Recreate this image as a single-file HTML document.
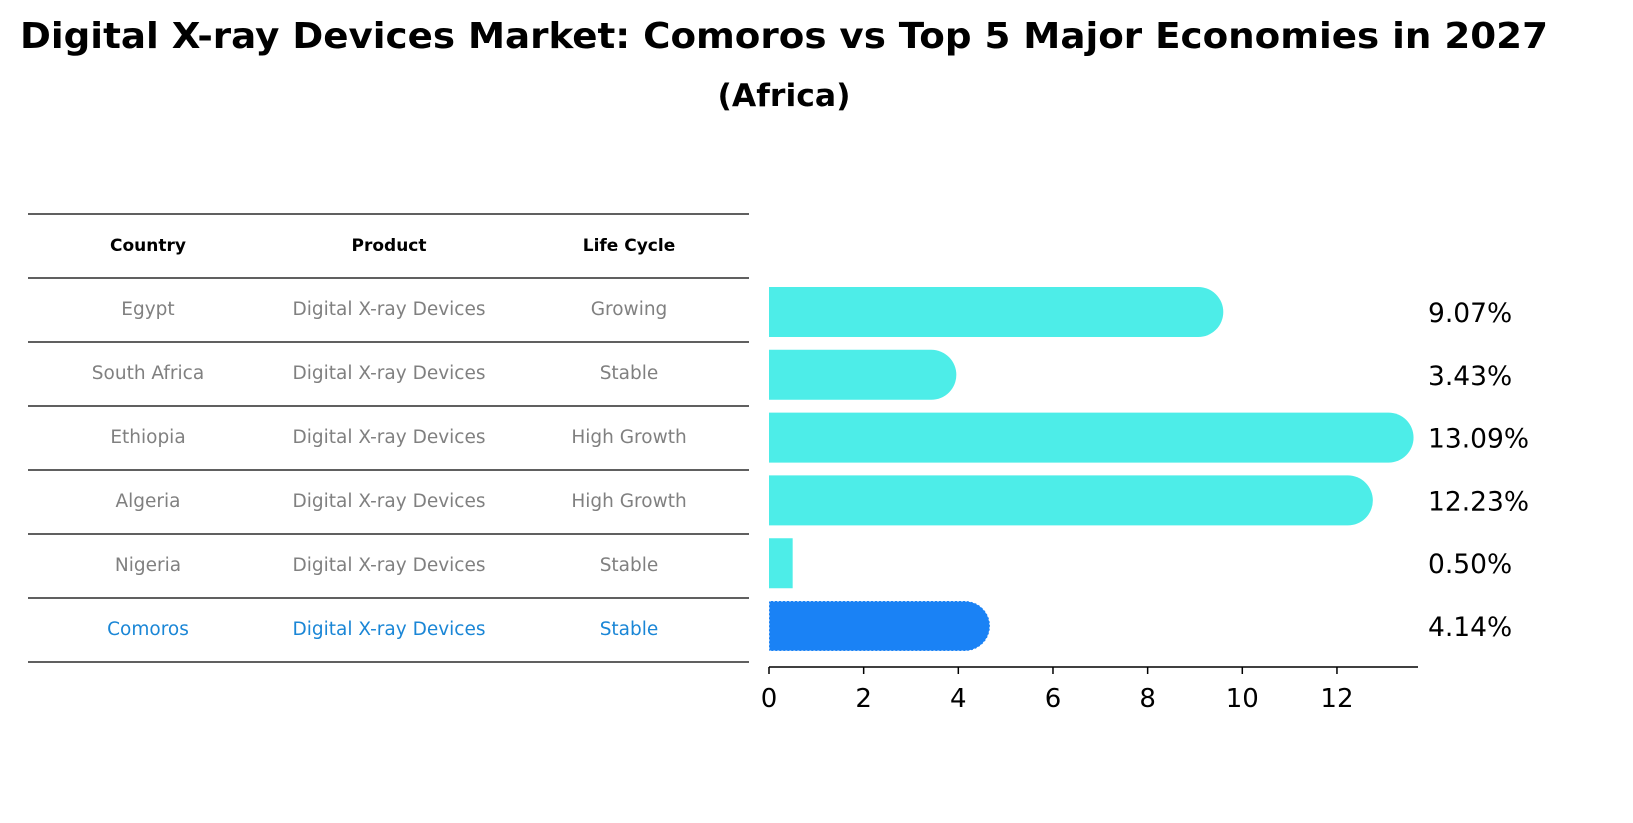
<!DOCTYPE html>
<html><head><meta charset="utf-8"><style>
body{margin:0;background:#fff;}
svg{display:block;font-family:"DejaVu Sans","Liberation Sans",sans-serif;}
</style></head><body>
<svg id="c" width="1633" height="823" viewBox="0 0 1633 823">
<text x="784" y="48" text-anchor="middle" font-size="36" font-weight="bold" textLength="1528" lengthAdjust="spacingAndGlyphs">Digital X-ray Devices Market: Comoros vs Top 5 Major Economies in 2027</text>
<text x="784" y="106" text-anchor="middle" font-size="31" font-weight="bold" textLength="133" lengthAdjust="spacingAndGlyphs">(Africa)</text>
<g id="tbl"></g>
<g id="bars"></g>
</svg>
<script>
const countries=["Egypt","South Africa","Ethiopia","Algeria","Nigeria","Comoros"];
const products=["Digital X-ray Devices","Digital X-ray Devices","Digital X-ray Devices","Digital X-ray Devices","Digital X-ray Devices","Digital X-ray Devices"];
const lifecycles=["Growing","Stable","High Growth","High Growth","Stable","Stable"];
const values=[9.07,3.43,13.09,12.23,0.50,4.14];
const ticks=[0,2,4,6,8,10,12];
const NS="http://www.w3.org/2000/svg";
function mk(p,tag,attrs,txt){const e=document.createElementNS(NS,tag);for(const k in attrs)e.setAttribute(k,attrs[k]);if(txt!==undefined)e.textContent=txt;p.appendChild(e);return e;}
const tbl=document.getElementById('tbl'),bars=document.getElementById('bars');
const cols=[148,389,629];
const rowTop=y=>278+64*y;
[["Country",0],["Product",1],["Life Cycle",2]].forEach(([t,i])=>{
 const e=mk(tbl,'text',{x:cols[i],y:251,'text-anchor':'middle','font-size':17,'font-weight':'bold'},t);
 
 
});
for(let i=0;i<=countries.length+1;i++){
 const y=i==0?214:rowTop(i-1);
 const l=mk(tbl,'line',{x1:28,x2:749,y1:y,y2:y,stroke:'#000','stroke-width':1.2});
 
 
}
countries.forEach((c,i)=>{
 const col=c==="Comoros"?"#1a86d6":"#808080";
 [c,products[i],lifecycles[i]].forEach((t,j)=>{
  const e=mk(tbl,'text',{x:cols[j],y:rowTop(i)+37,'text-anchor':'middle','font-size':18.5,fill:col},t);
  
  
 });
});
const x0=769,ppu=47.33;
const X=v=>x0+v*ppu;
const rowC=i=>312+62.8*i;
const bh=50,r=25;
values.forEach((v,i)=>{
 const comoros=countries[i]==="Comoros";
 const col=comoros?"#1a82f5":"#4dede8";
 const y=rowC(i)-bh/2, xe=X(v);
 let d;
 if(v>1){d=`M${x0},${y}H${xe}A${r},${r} 0 0 1 ${xe},${y+bh}H${x0}Z`;}
 else{d=`M${x0},${y}H${xe}V${y+bh}H${x0}Z`;}
 const p=mk(bars,'path',{d:d,fill:col});
 if(comoros){p.setAttribute('stroke','#ffffff');p.setAttribute('stroke-dasharray','2 2');p.setAttribute('stroke-width','1');}
 
 
 const t=mk(bars,'text',{x:1428,y:rowC(i)+10,'font-size':26.5},v.toFixed(2)+'%');
 
 
});
const ax=mk(bars,'line',{x1:x0,x2:1418,y1:667,y2:667,stroke:'#000','stroke-width':1.5});


ticks.forEach(t=>{
 const tl=mk(bars,'line',{x1:X(t),x2:X(t),y1:667,y2:674,stroke:'#000','stroke-width':1.5});
 
 
 const tx=mk(bars,'text',{x:X(t),y:707,'text-anchor':'middle','font-size':26},String(t));
 
 
});
</script>
</body></html>
